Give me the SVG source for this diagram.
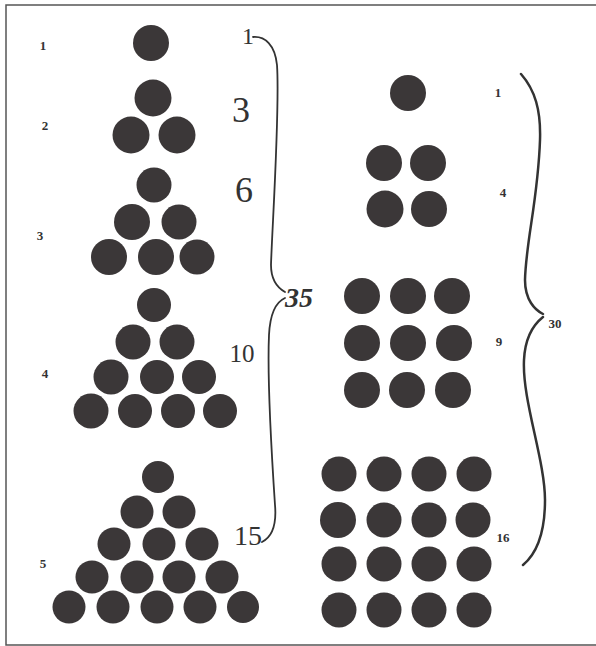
<svg xmlns="http://www.w3.org/2000/svg" width="596" height="646" viewBox="0 0 596 646">
<style>
.d{fill:#3b3738}
.sm{font-family:"Liberation Serif",serif;font-size:13px;fill:#333;text-anchor:middle;font-weight:bold}
.lg{font-family:"Liberation Serif",serif;fill:#333;text-anchor:middle}
.br{fill:none;stroke:#333;stroke-linecap:round}
</style>
<rect width="596" height="646" fill="#fff"/>
<path d="M596,5 H6 V645 H596" fill="none" stroke="#555" stroke-width="1.5"/>
<g id="tri1">
<circle class="d" cx="151" cy="43" r="18"/>
</g>
<g id="tri2">
<circle class="d" cx="153" cy="98" r="18.5"/>
<circle class="d" cx="131" cy="135" r="18.5"/>
<circle class="d" cx="177" cy="135" r="18.5"/>
</g>
<g id="tri3">
<circle class="d" cx="154" cy="185" r="17.5"/>
<circle class="d" cx="132" cy="222" r="18"/>
<circle class="d" cx="179" cy="222" r="17.5"/>
<circle class="d" cx="109" cy="257" r="18"/>
<circle class="d" cx="156" cy="257" r="18"/>
<circle class="d" cx="197" cy="257" r="17.5"/>
</g>
<g id="tri4">
<circle class="d" cx="154" cy="305" r="17"/>
<circle class="d" cx="133" cy="342" r="17.5"/>
<circle class="d" cx="177" cy="342" r="17.5"/>
<circle class="d" cx="111" cy="377" r="17.5"/>
<circle class="d" cx="157" cy="377" r="17"/>
<circle class="d" cx="199" cy="377" r="17"/>
<circle class="d" cx="91" cy="411" r="17.5"/>
<circle class="d" cx="135" cy="411" r="17"/>
<circle class="d" cx="178" cy="411" r="17"/>
<circle class="d" cx="220" cy="411" r="17"/>
</g>
<g id="tri5">
<circle class="d" cx="158" cy="477" r="16"/>
<circle class="d" cx="137" cy="512" r="16.5"/>
<circle class="d" cx="179" cy="512" r="16.5"/>
<circle class="d" cx="114" cy="544" r="16.5"/>
<circle class="d" cx="159" cy="544" r="16.5"/>
<circle class="d" cx="202" cy="544" r="16.5"/>
<circle class="d" cx="92" cy="577" r="16.5"/>
<circle class="d" cx="137" cy="577" r="16.5"/>
<circle class="d" cx="179" cy="577" r="16.5"/>
<circle class="d" cx="222" cy="577" r="16.5"/>
<circle class="d" cx="69" cy="607" r="16.5"/>
<circle class="d" cx="113" cy="607" r="16.5"/>
<circle class="d" cx="157" cy="607" r="16.5"/>
<circle class="d" cx="200" cy="607" r="16.5"/>
<circle class="d" cx="243" cy="607" r="16"/>
</g>
<g id="sq1">
<circle class="d" cx="408" cy="93" r="18"/>
</g>
<g id="sq2">
<circle class="d" cx="384" cy="163" r="18"/>
<circle class="d" cx="428" cy="163" r="18"/>
<circle class="d" cx="385" cy="209" r="18.5"/>
<circle class="d" cx="429" cy="209" r="18"/>
</g>
<g id="sq3">
<circle class="d" cx="362" cy="296" r="18"/>
<circle class="d" cx="408" cy="296" r="18"/>
<circle class="d" cx="452" cy="296" r="18"/>
<circle class="d" cx="362" cy="343" r="18"/>
<circle class="d" cx="408" cy="343" r="18"/>
<circle class="d" cx="454" cy="343" r="18"/>
<circle class="d" cx="362" cy="390" r="18"/>
<circle class="d" cx="407" cy="390" r="18"/>
<circle class="d" cx="453" cy="390" r="18"/>
</g>
<g id="sq4">
<circle class="d" cx="339" cy="474" r="17.5"/>
<circle class="d" cx="384" cy="474" r="17.5"/>
<circle class="d" cx="429" cy="474" r="17.5"/>
<circle class="d" cx="474" cy="474" r="17.5"/>
<circle class="d" cx="338" cy="520" r="18"/>
<circle class="d" cx="384" cy="520" r="17.5"/>
<circle class="d" cx="429" cy="520" r="17.5"/>
<circle class="d" cx="473" cy="520" r="17.5"/>
<circle class="d" cx="339" cy="564" r="17.5"/>
<circle class="d" cx="384" cy="564" r="17.5"/>
<circle class="d" cx="429" cy="564" r="17.5"/>
<circle class="d" cx="474" cy="564" r="17.5"/>
<circle class="d" cx="339" cy="610" r="17.5"/>
<circle class="d" cx="384" cy="610" r="17.5"/>
<circle class="d" cx="429" cy="610" r="17.5"/>
<circle class="d" cx="474" cy="610" r="17.5"/>
</g>
<g id="labels-left">
<text class="sm" x="43" y="50">1</text>
<text class="sm" x="45" y="130">2</text>
<text class="sm" x="40" y="240">3</text>
<text class="sm" x="45" y="378">4</text>
<text class="sm" x="43" y="568">5</text>
</g>
<g id="labels-mid">
<text class="lg" x="248" y="44" font-size="24">1</text>
<text class="lg" x="241" y="122" font-size="36">3</text>
<text class="lg" x="244" y="202" font-size="36">6</text>
<text class="lg" x="242" y="362" font-size="25">10</text>
<text class="lg" x="248" y="545" font-size="28">15</text>
<text class="lg" x="299" y="307" font-size="28" font-style="italic" font-weight="bold">35</text>
</g>
<g id="labels-right">
<text class="sm" x="498" y="97">1</text>
<text class="sm" x="503" y="197">4</text>
<text class="sm" x="499" y="346">9</text>
<text class="sm" x="503" y="542">16</text>
<text class="sm" x="555" y="328">30</text>
</g>
<g id="connectors">
<path class="br" stroke-width="1.8" d="M253,37 C265,36 275,45 277,65 C280,110 272,230 271,265 C271,280 278,288 285,292"/>
<path class="br" stroke-width="1.8" d="M285,298 C276,302 270,315 269,335 C267,380 272,460 275,505 C277,528 270,538 262,542"/>
<path class="br" stroke-width="2.5" d="M521,74 C535,90 541,110 540,140 C538,200 526,240 525,280 C525,300 535,310 543,314"/>
<path class="br" stroke-width="2.5" d="M543,317 C533,325 525,338 524,360 C522,400 545,460 545,500 C545,535 535,555 523,565"/>
</g>
</svg>
